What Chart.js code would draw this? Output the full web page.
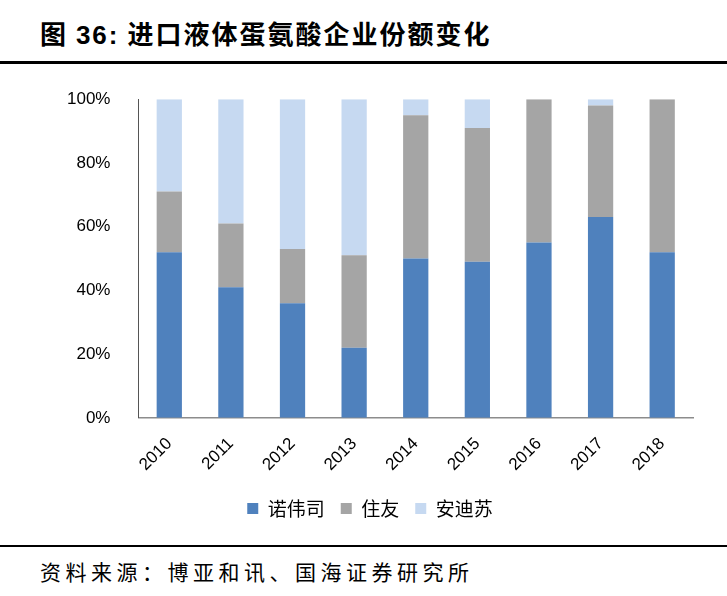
<!DOCTYPE html>
<html lang="zh">
<head>
<meta charset="UTF-8">
<title>进口液体蛋氨酸企业份额变化</title>
<script src="https://cdn.jsdelivr.net/npm/chart.js@4/dist/chart.umd.min.js"></script>
<style>
    * { margin: 0; padding: 0; }
    body { width: 727px; height: 596px; background: #fff; position: relative; overflow: hidden;
           font-family: "Noto Sans CJK SC", sans-serif; }
    #title { position: absolute; left: 40px; top: 14px; font-size: 26px; font-weight: bold; color: #000;
             letter-spacing: 2px; white-space: nowrap; }
    #title b { font-family: "Liberation Sans", Arial, sans-serif; }
    .rule { position: absolute; left: 0; width: 727px; background: #000; }
    #source { position: absolute; left: 40px; top: 556px; font-size: 21px; color: #000;
              letter-spacing: 4.5px; white-space: nowrap; }
    #box { position: absolute; left: 40px; top: 69px; width: 660px; height: 459px; }
</style>
</head>
<body>
<div id="title">图 <b>36:</b> 进口液体蛋氨酸企业份额变化</div>
<div class="rule" style="top:61px;height:3px"></div>
<div id="box"><canvas id="myChart"></canvas></div>
<div class="rule" style="top:545px;height:2px"></div>
<div id="source">资料来源：博亚和讯、国海证券研究所</div>
<script>
    var years = ['2010', '2011', '2012', '2013', '2014', '2015', '2016', '2017', '2018'];
    var novus = [52, 41, 36, 22, 50, 49, 55, 63, 52];      // 诺伟司
    var sumitomo = [19, 20, 17, 29, 45, 42, 45, 35, 48];   // 住友
    var adisseo = [29, 39, 47, 49, 5, 9, 0, 2, 0];         // 安迪苏
    var yTicks = [0, 20, 40, 60, 80, 100];

    var ctx = document.getElementById('myChart').getContext('2d');
    var myChart = new Chart(ctx, {
        type: 'bar',
        data: {
            labels: years,
            datasets: [
                { label: '诺伟司', data: novus, backgroundColor: '#4f81bd' },
                { label: '住友', data: sumitomo, backgroundColor: '#a5a5a5' },
                { label: '安迪苏', data: adisseo, backgroundColor: '#c6d9f1' }
            ]
        },
        options: {
            responsive: true,
            maintainAspectRatio: false,
            animation: false,
            layout: { padding: { left: 7, right: 7, top: 10, bottom: 0 } },
            datasets: { bar: { categoryPercentage: 1.0, barPercentage: 0.41 } },
            plugins: {
                tooltip: { enabled: false },
                legend: {
                    position: 'bottom',
                    labels: {
                        boxWidth: 11, boxHeight: 11, padding: 16, color: '#000',
                        font: { family: '"Noto Sans CJK SC"', size: 19 }
                    }
                }
            },
            scales: {
                x: {
                    stacked: true,
                    grid: { display: false },
                    border: { color: '#8c8c8c', width: 1.5 },
                    ticks: {
                        color: '#000', maxRotation: 45, minRotation: 45, padding: 8,
                        font: { family: '"Liberation Sans", Arial', size: 17 }
                    }
                },
                y: {
                    stacked: true,
                    min: 0, max: 100,
                    afterBuildTicks: function (axis) {
                        axis.ticks = yTicks.map(function (v) { return { value: v }; });
                    },
                    grid: { display: false },
                    border: { color: '#555', width: 1 },
                    ticks: {
                        color: '#000', padding: 20,
                        font: { family: '"Liberation Sans", Arial', size: 17 },
                        callback: function (v) { return v + '%'; }
                    }
                }
            }
        }
    });
</script>
</body>
</html>
